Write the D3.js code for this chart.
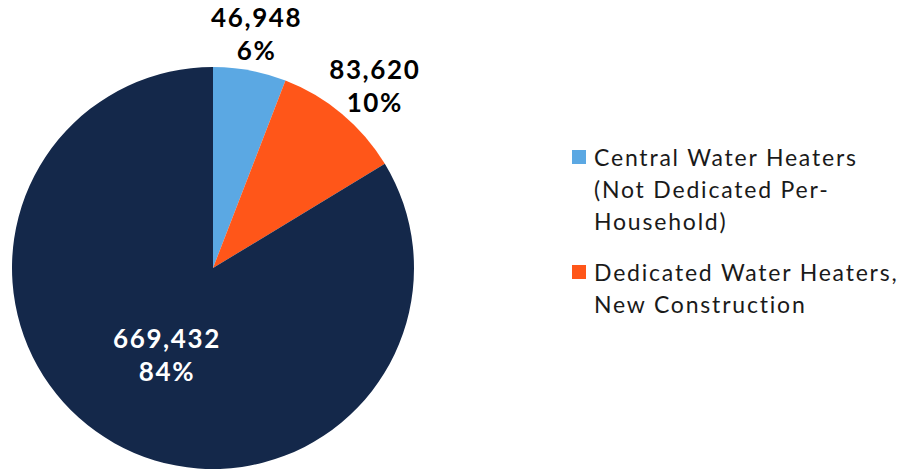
<!DOCTYPE html>
<html>
<head>
<meta charset="utf-8">
<script src="https://cdn.jsdelivr.net/npm/d3@7"></script>
<style>
  body { margin: 0; background: #fff; }
  svg { display: block; }
</style>
</head>
<body>
<script>
// Chart data
const categories = ["Central Water Heaters (Not Dedicated Per-Household)", "Dedicated Water Heaters, New Construction", "Other"];
const values = [46948, 83620, 669432];
const percents = ["6%", "10%", "84%"];
const colors = ["#5ba8e3", "#ff5619", "#14284a"];
const legendLines = [
    ["Central Water Heaters", "(Not Dedicated Per-", "Household)"],
    ["Dedicated Water Heaters,", "New Construction"]
];

const width = 911, height = 470;
const svg = d3.select("body").append("svg")
    .attr("width", width)
    .attr("height", height);

const cx = 213, cy = 268, radius = 201;
const g = svg.append("g").attr("transform", `translate(${cx},${cy})`);

const pie = d3.pie().sort(null).value(d => d);
const arcs = pie(values);
const arc = d3.arc().innerRadius(0).outerRadius(radius);

g.selectAll("path.slice")
    .data(arcs)
    .enter().append("path")
    .attr("class", "slice")
    .attr("d", arc)
    .attr("fill", (d, i) => colors[i]);

// label radius: small slices outside, big slice inside
const outerLabel = d3.arc().innerRadius(238).outerRadius(238);
const innerLabel = d3.arc().innerRadius(100).outerRadius(100);
const nudgeX = [0, 9, 3];
const fmt = d3.format(",");

const labels = g.selectAll("text.lbl")
    .data(arcs)
    .enter().append("text")
    .attr("class", "lbl")
    .attr("text-anchor", "middle")
    .attr("font-family", "Lato, sans-serif")
    .attr("font-weight", "bold")
    .attr("font-size", 26)
    .attr("letter-spacing", 1.6)
    .attr("fill", (d, i) => i === 2 ? "#fff" : "#000")
    .attr("transform", (d, i) => {
        const c = (i === 2 ? innerLabel : outerLabel).centroid(d);
        return `translate(${c[0] + nudgeX[i]},${c[1]})`;
    });
labels.append("tspan").attr("x", 0).attr("y", -7).text(d => fmt(d.value));
labels.append("tspan").attr("x", 0).attr("y", 26).text((d, i) => percents[i]);

// Legend
const legendY = [150, 265];
const legend = svg.append("g").attr("transform", "translate(572,0)");
legendLines.forEach((lines, i) => {
    legend.append("rect")
        .attr("x", 0).attr("y", legendY[i])
        .attr("width", 14).attr("height", 14)
        .attr("fill", colors[i]);
    const t = legend.append("text")
        .attr("font-family", "Lato, sans-serif")
        .attr("font-size", 23)
        .attr("letter-spacing", 1.8)
        .attr("fill", "#1a1a1a");
    lines.forEach((line, j) => {
        t.append("tspan")
            .attr("x", 22)
            .attr("y", legendY[i] + 16 + j * 32)
            .text(line);
    });
});
</script>
</body>
</html>
